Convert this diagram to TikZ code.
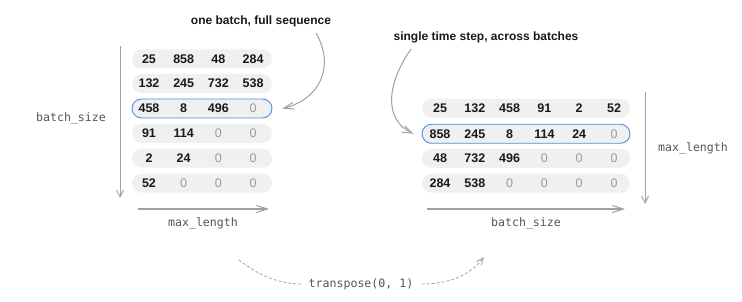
\documentclass[tikz,border=0pt]{standalone}
\usepackage{fontspec}
\setmainfont{Liberation Sans}
\setmonofont{DejaVu Sans Mono}
\usetikzlibrary{arrows.meta}
\definecolor{rowfill}{HTML}{F0F0F0}
\definecolor{hiblue}{HTML}{4A90E2}
\definecolor{zerogray}{HTML}{9A9A9A}
\definecolor{axisgray}{HTML}{A0A0A0}
\definecolor{labelgray}{HTML}{555555}
\definecolor{dashgray}{HTML}{ABABAB}
\begin{document}
\begin{tikzpicture}[x=1pt,y=-1pt,
  rowbox/.style={fill=rowfill, draw=none, rounded corners=9.5pt, minimum height=19pt, inner sep=0pt},
  hirow/.style={rowbox, draw=hiblue, line width=0.9pt},
  leftrow/.style={minimum width=140pt},
  rightrow/.style={minimum width=208pt},
  num/.style={inner sep=0pt, font=\fontsize{12.5}{14}\selectfont\bfseries, text=black!90},
  zero/.style={inner sep=0pt, font=\fontsize{12.5}{14}\selectfont, text=zerogray},
  title/.style={inner sep=0pt, font=\fontsize{12}{14}\selectfont\bfseries, text=black!90},
  monolabel/.style={inner sep=0pt, font=\fontsize{11.6}{14}\selectfont\ttfamily, text=labelgray},
  vaxis/.style={draw=axisgray, line width=1pt, -{Straight Barb[length=7pt,width=7pt]}},
  haxis/.style={draw=axisgray, line width=2pt, -{Straight Barb[length=11pt,width=7pt,line width=1pt]}},
  callout/.style={draw=axisgray, line width=1pt, -{Straight Barb[length=10pt,width=7pt]}},
  dashcurve/.style={draw=dashgray, line width=0.9pt, dash pattern=on 3pt off 2pt},
]
\useasboundingbox (0,0) rectangle (742,302);

% ---------- left matrix ----------
\foreach \r/\y/\vals in {1/59/{25,858,48,284},2/83.5/{132,245,732,538},3/108.5/{458,8,496,0},4/133.3/{91,114,0,0},5/158.2/{2,24,0,0},6/183.2/{52,0,0,0}}{
  \ifnum\r=3 \def\rs{hirow}\else\def\rs{rowbox}\fi
  \node[\rs,leftrow] (L\r) at (202,\y) {};
  \foreach \v [count=\c] in \vals {
    \ifnum\v=0 \def\st{zero}\else\def\st{num}\fi
    \node[\st] (L\r-\c) at ({149+34.7*(\c-1)},\y) {\v};
  }
}

% ---------- right matrix ----------
\foreach \r/\y/\vals in {1/108.5/{25,132,458,91,2,52},2/133.8/{858,245,8,114,24,0},3/158.3/{48,732,496,0,0,0},4/183.2/{284,538,0,0,0,0}}{
  \ifnum\r=2 \def\rs{hirow}\else\def\rs{rowbox}\fi
  \node[\rs,rightrow] (R\r) at (526,\y) {};
  \foreach \v [count=\c] in \vals {
    \ifnum\v=0 \def\st{zero}\else\def\st{num}\fi
    \node[\st] (R\r-\c) at ({440+34.8*(\c-1)},\y) {\v};
  }
}

% ---------- axes ----------
\coordinate (lvA) at (120,46);
\coordinate (lvB) at (120,198);
\draw[vaxis] (lvA) -- (lvB);
\node[monolabel] (lbs) at (71,118) {batch\_size};

\coordinate (lhA) at (138,209);
\coordinate (lhB) at (269,209);
\draw[haxis] (lhA) -- (lhB);
\node[monolabel] (lml) at (203,223) {max\_length};

\coordinate (rvA) at (645,92);
\coordinate (rvB) at (645,204);
\draw[vaxis] (rvA) -- (rvB);
\node[monolabel] (rml) at (693,148) {max\_length};

\coordinate (rhA) at (427,209);
\coordinate (rhB) at (625,209);
\draw[haxis] (rhA) -- (rhB);
\node[monolabel] (rbs) at (526,223) {batch\_size};

% ---------- callouts ----------
\node[title] (t1) at (261,21) {one batch, full sequence};
\node[title] (t2) at (486,37) {single time step, across batches};
\coordinate (c1) at (316,33);
\coordinate (c2) at (411,49);
\draw[callout] (c1) .. controls (336,68) and (318,100) .. ([xshift=10pt]L3.east);
\draw[callout] (c2) .. controls (386,85) and (384,120) .. ([xshift=-8pt]R2.west);

% ---------- transpose ----------
\node[monolabel] (tr) at (361,284) {transpose(0, 1)};
\coordinate (d1) at (239,260);
\coordinate (d2) at (484,257);
\draw[dashcurve] (d1) .. controls (262,278) and (282,284) .. ([xshift=-6pt]tr.west);
\draw[dashcurve, -{Straight Barb[length=7pt,width=6pt]}] ([xshift=8pt]tr.east) .. controls (450,284) and (470,275) .. (d2);
\end{tikzpicture}
\end{document}
